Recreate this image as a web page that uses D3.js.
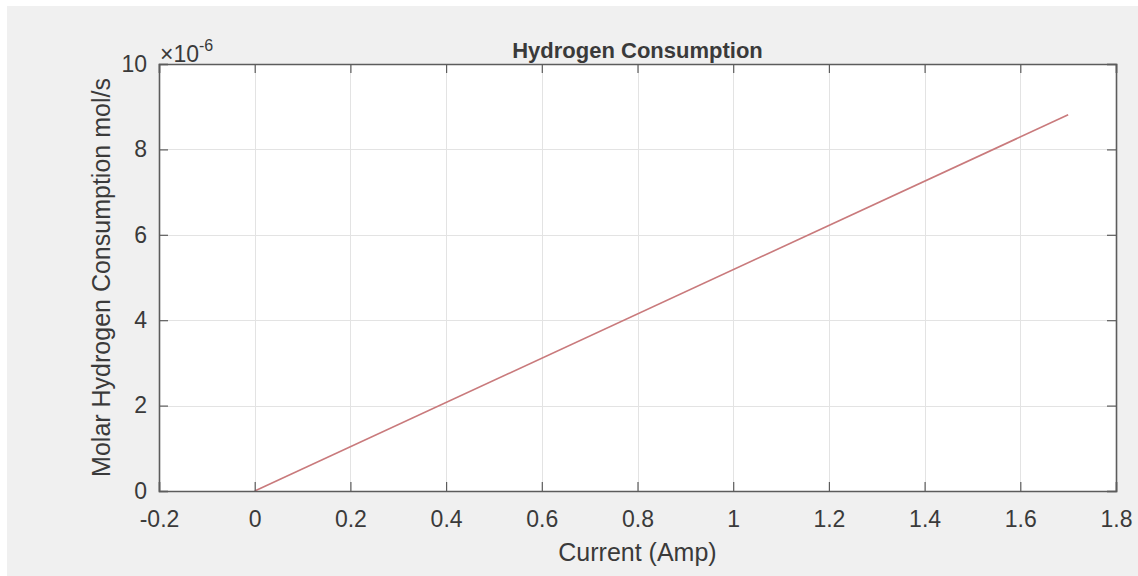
<!DOCTYPE html>
<html>
<head>
<meta charset="utf-8">
<script src="https://cdn.jsdelivr.net/npm/d3@7"></script>
<style>
  html, body { margin: 0; padding: 0; background: #ffffff; }
  svg { display: block; }
  text { font-family: "Liberation Sans", Arial, Helvetica, sans-serif; fill: #3a3a3a; }
</style>
</head>
<body>
<svg id="chart" width="1138" height="576"></svg>
<script>
// Current drawn by the cell (A) and the matching hydrogen consumption (×10⁻⁶ mol/s)
const current = [0, 1.7];
const consumption = [0, 8.81];

const xTicks = [-0.2, 0, 0.2, 0.4, 0.6, 0.8, 1, 1.2, 1.4, 1.6, 1.8];
const xTickLabels = ["-0.2", "0", "0.2", "0.4", "0.6", "0.8", "1", "1.2", "1.4", "1.6", "1.8"];
const yTicks = [0, 2, 4, 6, 8, 10];
const yTickLabels = ["0", "2", "4", "6", "8", "10"];

const titleText = "Hydrogen Consumption";
const xLabel = "Current (Amp)";
const yLabel = "Molar Hydrogen Consumption mol/s";

const svg = d3.select("#chart");
const W = 1138, H = 576;
const box = { left: 159, right: 1116, top: 64, bottom: 491 };

// figure background
svg.append("rect").attr("x", 7).attr("y", 6).attr("width", W - 7).attr("height", H - 6)
  .attr("fill", "#f0f0f0");

const x = d3.scaleLinear().domain([-0.2, 1.8]).range([box.left, box.right]);
const y = d3.scaleLinear().domain([0, 10]).range([box.bottom, box.top]);

// plot area
svg.append("rect")
  .attr("x", box.left).attr("y", box.top)
  .attr("width", box.right - box.left).attr("height", box.bottom - box.top)
  .attr("fill", "#ffffff");

// grid
const grid = svg.append("g").attr("stroke", "#e3e3e3").attr("stroke-width", 1);
grid.selectAll("line.vx").data(xTicks.slice(1, -1)).join("line")
  .attr("x1", d => Math.round(x(d)) + 0.5).attr("x2", d => Math.round(x(d)) + 0.5)
  .attr("y1", box.top).attr("y2", box.bottom);
grid.selectAll("line.hy").data(yTicks.slice(1, -1)).join("line")
  .attr("y1", d => Math.round(y(d)) + 0.5).attr("y2", d => Math.round(y(d)) + 0.5)
  .attr("x1", box.left).attr("x2", box.right);

// data line
const pts = current.map((c, i) => [c, consumption[i]]);
svg.append("path")
  .datum(pts)
  .attr("fill", "none")
  .attr("stroke", "#c97a7c")
  .attr("stroke-width", 1.6)
  .attr("d", d3.line().x(d => x(d[0])).y(d => y(d[1])));

// axes with inward ticks, boxed on all four sides
const tickLen = 9;
const axisColor = "#5c5c5c";
const xFmt = d => xTickLabels[xTicks.indexOf(d)];
const yFmt = d => yTickLabels[yTicks.indexOf(d)];

const gx = svg.append("g").attr("transform", `translate(0,${box.bottom})`)
  .call(d3.axisBottom(x).tickValues(xTicks).tickSize(-tickLen).tickPadding(20).tickFormat(xFmt));
const gxTop = svg.append("g").attr("transform", `translate(0,${box.top})`)
  .call(d3.axisTop(x).tickValues(xTicks).tickSize(-tickLen).tickFormat(""));
const gy = svg.append("g").attr("transform", `translate(${box.left},0)`)
  .call(d3.axisLeft(y).tickValues(yTicks).tickSize(-tickLen).tickPadding(12).tickFormat(yFmt));
const gyR = svg.append("g").attr("transform", `translate(${box.right},0)`)
  .call(d3.axisRight(y).tickValues(yTicks).tickSize(-tickLen).tickFormat(""));

[gx, gxTop, gy, gyR].forEach(g => {
  g.select(".domain").attr("stroke", axisColor).attr("stroke-width", 1.6);
  g.selectAll(".tick line").attr("stroke", axisColor).attr("stroke-width", 1.2);
  g.selectAll(".tick text")
    .attr("font-size", 23)
    .attr("fill", "#3a3a3a")
    .attr("font-family", '"Liberation Sans", Arial, sans-serif');
});
gx.selectAll(".tick text").attr("dy", "0.71em");

// exponent marker above the y axis
const expo = svg.append("text").attr("x", 160).attr("y", 62).attr("font-size", 23);
expo.append("tspan").text("\u00d710");
expo.append("tspan").attr("font-size", 16).attr("dy", -11).text("-6");

// title
svg.append("text")
  .attr("x", (box.left + box.right) / 2).attr("y", 58)
  .attr("text-anchor", "middle")
  .attr("font-size", 22).attr("font-weight", "bold")
  .attr("fill", "#2a2a2a")
  .text(titleText);

// axis labels
svg.append("text")
  .attr("x", (box.left + box.right) / 2).attr("y", 561)
  .attr("text-anchor", "middle")
  .attr("font-size", 25)
  .text(xLabel);

svg.append("text")
  .attr("transform", `translate(110,${(box.top + box.bottom) / 2}) rotate(-90)`)
  .attr("text-anchor", "middle")
  .attr("font-size", 25)
  .text(yLabel);
</script>
</body>
</html>
